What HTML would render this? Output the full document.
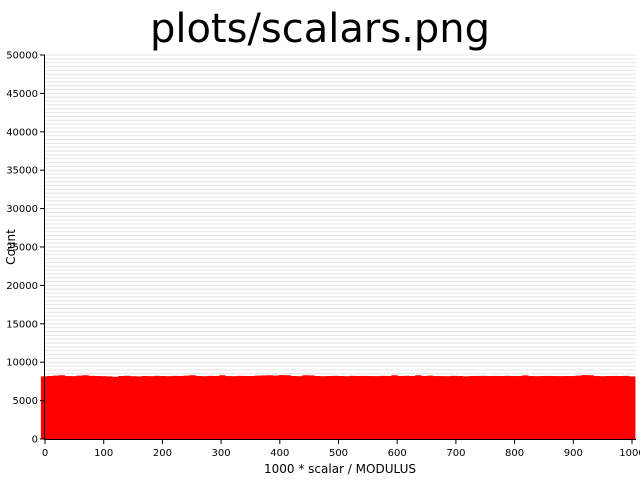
<!DOCTYPE html>
<html><head><meta charset="utf-8"><style>
body{margin:0;background:#fff;width:640px;height:480px;overflow:hidden;font-family:"DejaVu Sans","Liberation Sans",sans-serif}
</style></head><body>
<svg id="chart" width="640" height="480" xmlns="http://www.w3.org/2000/svg">
<text x="320" y="42" text-anchor="middle" font-size="40" fill="#000">plots/scalars.png</text>
<g id="grid"></g>
<g id="bars"></g>
<g id="axes"></g>
<text transform="translate(15,247) rotate(-90)" text-anchor="middle" font-size="12">Count</text>
<text x="340" y="473" text-anchor="middle" font-size="12">1000 * scalar / MODULUS</text>
</svg>
<script>
const yTicks=[0,5000,10000,15000,20000,25000,30000,35000,40000,45000,50000];
const xTicks=[0,100,200,300,400,500,600,700,800,900,1000];
const binStart=-7, binWidth=10.12;
const counts=[8150,8200,8250,8300,8200,8180,8250,8300,8220,8200,8180,8150,8100,8200,8230,8180,8150,8200,8180,8220,
8200,8180,8220,8200,8250,8300,8200,8180,8220,8200,8300,8200,8180,8220,8200,8200,8250,8280,8300,8250,
8320,8300,8200,8180,8300,8280,8200,8180,8200,8220,8200,8180,8220,8200,8210,8200,8190,8220,8200,8300,
8200,8230,8200,8300,8200,8250,8200,8190,8180,8220,8200,8160,8200,8210,8220,8200,8210,8200,8220,8200,
8200,8280,8200,8180,8200,8210,8200,8190,8200,8200,8250,8320,8300,8200,8180,8200,8210,8200,8220,8150];
const X0=45,X1=632,Y0=439,Y1=55;
const xs=v=>X0+(v/1000)*(X1-X0);
const ys=v=>Y0-(v/50000)*(Y0-Y1);
const NS="http://www.w3.org/2000/svg";
function mk(t,a,p){const e=document.createElementNS(NS,t);for(const k in a)e.setAttribute(k,a[k]);p.appendChild(e);return e;}
const grid=document.getElementById('grid'),bars=document.getElementById('bars'),axes=document.getElementById('axes');
for(let v=500;v<=50000;v+=500){const l=mk('line',{x1:X0,x2:636,y1:ys(v),y2:ys(v),stroke:'#e6e6e6','stroke-width':1},grid);

}
counts.forEach((c,i)=>{const a=xs(binStart+i*binWidth),b=xs(binStart+(i+1)*binWidth);
const r=mk('rect',{x:a,y:ys(c),width:b-a+0.5,height:ys(0)-ys(c),fill:'#ff0000'},bars);

});
mk('line',{x1:X0-0.5,x2:X0-0.5,y1:Y1,y2:Y0+1,stroke:'#000','stroke-width':1},axes);
mk('line',{x1:X0-0.5,x2:636,y1:Y0+0.5,y2:Y0+0.5,stroke:'#000','stroke-width':1},axes);
yTicks.forEach(v=>{mk('line',{x1:X0-5,x2:X0,y1:ys(v),y2:ys(v),stroke:'#000'},axes);
const t=mk('text',{x:X0-7,y:ys(v)+3.5,'text-anchor':'end','font-size':10},axes);t.textContent=v;

});
xTicks.forEach(v=>{mk('line',{x1:xs(v),x2:xs(v),y1:Y0,y2:Y0+5,stroke:'#000'},axes);
const t=mk('text',{x:xs(v),y:Y0+17,'text-anchor':'middle','font-size':10},axes);t.textContent=v;

});
</script>
</body></html>
